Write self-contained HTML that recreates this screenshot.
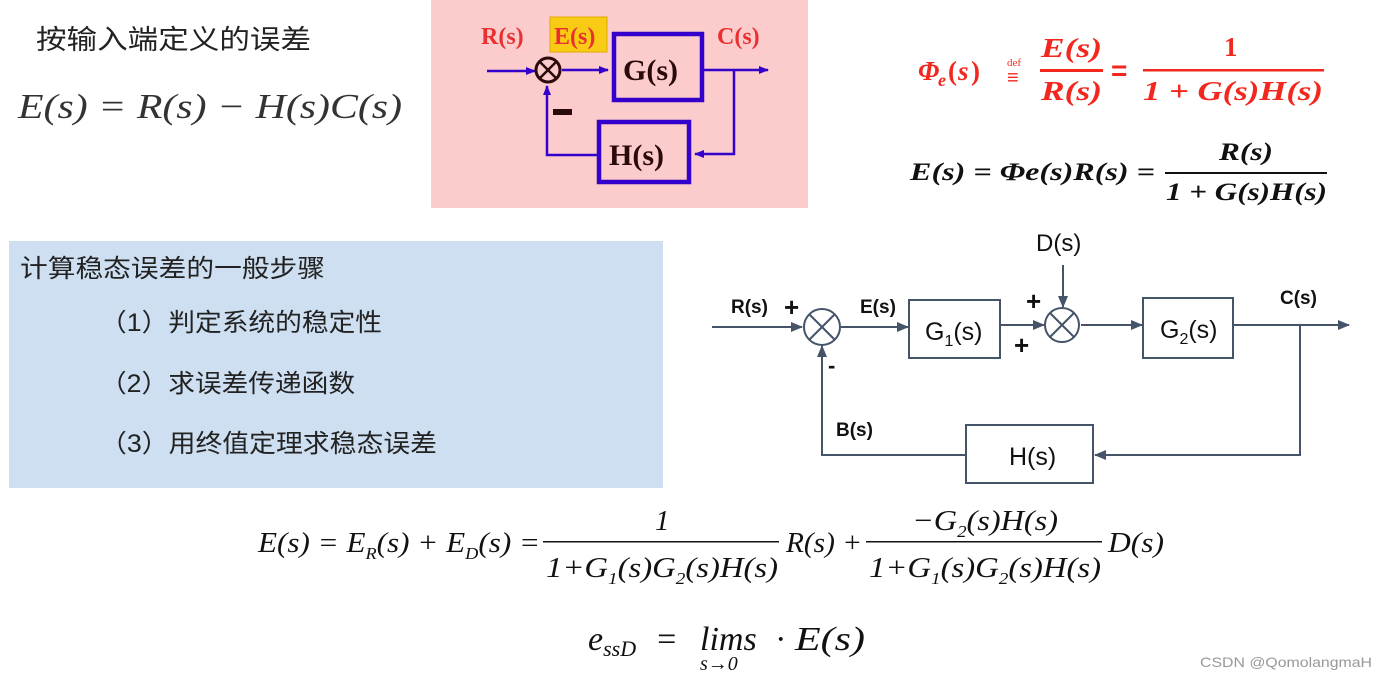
<!DOCTYPE html>
<html><head><meta charset="utf-8"><style>
html,body{margin:0;padding:0;background:#fff;}
svg{display:block;}
.cj{font-family:"Liberation Sans","Noto Sans CJK SC",sans-serif;}
.m{font-family:"Liberation Serif",serif;font-style:italic;}
.tm{font-family:"Liberation Serif",serif;}
.a{font-family:"Liberation Sans",sans-serif;}
</style></head><body>
<svg width="1386" height="680" viewBox="0 0 1386 680" xmlns="http://www.w3.org/2000/svg">
<defs>
<marker id="ab" markerWidth="10" markerHeight="10" refX="9" refY="5" orient="auto" markerUnits="userSpaceOnUse"><path d="M0,1 L10,5 L0,9 Z" fill="#3300cc"/></marker>
<marker id="ag" markerWidth="12" markerHeight="12" refX="11" refY="6" orient="auto" markerUnits="userSpaceOnUse"><path d="M0,1 L12,6 L0,11 Z" fill="#46546a"/></marker>
</defs>

<text class="cj" x="36" y="49" font-size="27" fill="#222" textLength="275" lengthAdjust="spacingAndGlyphs">按输入端定义的误差</text>
<text class="m" x="18" y="118" font-size="35" fill="#333" textLength="384" lengthAdjust="spacingAndGlyphs">E(s) = R(s) − H(s)C(s)</text>

<rect x="431" y="0" width="377" height="208" fill="#fccccc"/>
<rect x="550" y="17" width="57" height="35" fill="#f9cb14" stroke="#e0a800" stroke-width="1"/>
<g font-family="Liberation Serif,serif" font-weight="bold">
<text x="481" y="44" font-size="24" fill="#e83030">R(s)</text>
<text x="554" y="44" font-size="24" fill="#e83030">E(s)</text>
<text x="717" y="44" font-size="24" fill="#e83030">C(s)</text>
<text x="623" y="80" font-size="30" fill="#2a0a0a">G(s)</text>
<text x="609" y="165" font-size="30" fill="#2a0a0a">H(s)</text>
</g>
<g stroke="#3300cc" stroke-width="2.5" fill="none">
<line x1="487" y1="71" x2="535" y2="71" marker-end="url(#ab)"/>
<line x1="562" y1="70" x2="608" y2="70" marker-end="url(#ab)"/>
<line x1="704" y1="70" x2="768" y2="70" marker-end="url(#ab)"/>
<polyline points="734,70 734,154 695,154" marker-end="url(#ab)"/>
<polyline points="598,155 547,155 547,86" marker-end="url(#ab)"/>
</g>
<rect x="614" y="34" width="88" height="66" fill="none" stroke="#3300cc" stroke-width="4.5"/>
<rect x="599" y="122" width="90" height="60" fill="none" stroke="#3300cc" stroke-width="4.5"/>
<circle cx="548" cy="70" r="12" fill="none" stroke="#2a0a0a" stroke-width="3"/>
<line x1="540" y1="62" x2="556" y2="78" stroke="#2a0a0a" stroke-width="2.5"/>
<line x1="556" y1="62" x2="540" y2="78" stroke="#2a0a0a" stroke-width="2.5"/>
<rect x="553" y="109" width="19" height="6" fill="#2a0a0a"/>

<g font-family="Liberation Serif,serif" font-style="italic" font-weight="bold">
<text x="918" y="80" font-size="27" fill="#f2281f">Φ</text>
<text x="938" y="86" font-size="18" fill="#f2281f">e</text>
<text x="948" y="80" font-size="27" fill="#f2281f" font-style="normal">(</text>
<text x="958" y="80" font-size="27" fill="#f2281f">s</text>
<text x="971" y="80" font-size="27" fill="#f2281f" font-style="normal">)</text>
<text x="1041" y="57" font-size="27" fill="#f2281f" textLength="61" lengthAdjust="spacingAndGlyphs">E(s)</text>
<text x="1041" y="100" font-size="27" fill="#f2281f" textLength="61" lengthAdjust="spacingAndGlyphs">R(s)</text>
<text x="1224" y="56" font-size="27" fill="#f2281f" font-style="normal">1</text>
<text x="1143" y="100" font-size="27" fill="#f2281f" textLength="180" lengthAdjust="spacingAndGlyphs">1 + G(s)H(s)</text>
<text x="910" y="180" font-size="25" fill="#111" textLength="245" lengthAdjust="spacingAndGlyphs">E(s) = Φe(s)R(s) =</text>
<text x="1219" y="160" font-size="25" fill="#111" textLength="54" lengthAdjust="spacingAndGlyphs">R(s)</text>
<text x="1166" y="200" font-size="25" fill="#111" textLength="161" lengthAdjust="spacingAndGlyphs">1 + G(s)H(s)</text>
</g>
<text x="1007" y="66" font-family="Liberation Serif,serif" font-size="11" fill="#f2281f">def</text>
<text x="1007" y="84" font-family="Liberation Sans,sans-serif" font-size="20" fill="#f2281f">≡</text>
<rect x="1040" y="69" width="63" height="3" fill="#f2281f"/>
<text x="1111" y="80" font-family="Liberation Sans,sans-serif" font-size="28" font-weight="bold" fill="#f2281f">=</text>
<rect x="1143" y="69" width="181" height="2.5" fill="#f2281f"/>
<rect x="1165" y="172" width="162" height="2" fill="#111"/>

<rect x="9" y="241" width="654" height="247" fill="#cddff0"/>
<g class="cj" font-size="25" fill="#222">
<text x="20" y="277" textLength="305" lengthAdjust="spacingAndGlyphs">计算稳态误差的一般步骤</text>
<text x="100" y="331" textLength="282" lengthAdjust="spacingAndGlyphs">（1）判定系统的稳定性</text>
<text x="100" y="392" textLength="255" lengthAdjust="spacingAndGlyphs">（2）求误差传递函数</text>
<text x="100" y="452" textLength="337" lengthAdjust="spacingAndGlyphs">（3）用终值定理求稳态误差</text>
</g>

<g stroke="#46546a" stroke-width="2" fill="none">
<line x1="712" y1="327" x2="802" y2="327" marker-end="url(#ag)"/>
<line x1="841" y1="327" x2="908" y2="327" marker-end="url(#ag)"/>
<line x1="1001" y1="325" x2="1044" y2="325" marker-end="url(#ag)"/>
<line x1="1063" y1="265" x2="1063" y2="307" marker-end="url(#ag)"/>
<line x1="1081" y1="325" x2="1142" y2="325" marker-end="url(#ag)"/>
<line x1="1234" y1="325" x2="1349" y2="325" marker-end="url(#ag)"/>
<polyline points="1300,325 1300,455 1095,455" marker-end="url(#ag)"/>
<polyline points="966,455 822,455 822,346" marker-end="url(#ag)"/>
<rect x="909" y="300" width="91" height="58"/>
<rect x="1143" y="298" width="90" height="60"/>
<rect x="966" y="425" width="127" height="58"/>
<circle cx="822" cy="327" r="18"/>
<line x1="809" y1="314" x2="835" y2="340"/><line x1="835" y1="314" x2="809" y2="340"/>
<circle cx="1062" cy="325" r="17"/>
<line x1="1050" y1="313" x2="1074" y2="337"/><line x1="1074" y1="313" x2="1050" y2="337"/>
</g>
<g class="a" fill="#111">
<text x="731" y="313" font-size="19" font-weight="bold">R(s)</text>
<text x="784" y="316" font-size="26" font-weight="bold">+</text>
<text x="860" y="313" font-size="19" font-weight="bold">E(s)</text>
<text x="1026" y="310" font-size="26" font-weight="bold">+</text>
<text x="1014" y="354" font-size="26" font-weight="bold">+</text>
<text x="828" y="373" font-size="22" font-weight="bold">-</text>
<text x="1280" y="304" font-size="19" font-weight="bold">C(s)</text>
<text x="836" y="436" font-size="19" font-weight="bold">B(s)</text>
<text x="1036" y="251" font-size="24">D(s)</text>
<text x="925" y="340" font-size="25">G<tspan font-size="16" dy="6">1</tspan><tspan dy="-6">(s)</tspan></text>
<text x="1160" y="338" font-size="25">G<tspan font-size="16" dy="6">2</tspan><tspan dy="-6">(s)</tspan></text>
<text x="1009" y="465" font-size="25">H(s)</text>
</g>

<g class="m" fill="#111" font-size="29">
<text x="258" y="552" textLength="282" lengthAdjust="spacingAndGlyphs">E(s) = E<tspan font-size="17" dy="7">R</tspan><tspan dy="-7">(s) + E</tspan><tspan font-size="17" dy="7">D</tspan><tspan dy="-7">(s) =</tspan></text>
<text x="655" y="530" class="tm">1</text>
<text x="546" y="577" textLength="232" lengthAdjust="spacingAndGlyphs">1+G<tspan font-size="17" dy="7">1</tspan><tspan dy="-7">(s)G</tspan><tspan font-size="17" dy="7">2</tspan><tspan dy="-7">(s)H(s)</tspan></text>
<text x="786" y="552" textLength="76" lengthAdjust="spacingAndGlyphs">R(s) +</text>
<text x="912" y="530" textLength="146" lengthAdjust="spacingAndGlyphs">−G<tspan font-size="17" dy="7">2</tspan><tspan dy="-7">(s)H(s)</tspan></text>
<text x="869" y="577" textLength="232" lengthAdjust="spacingAndGlyphs">1+G<tspan font-size="17" dy="7">1</tspan><tspan dy="-7">(s)G</tspan><tspan font-size="17" dy="7">2</tspan><tspan dy="-7">(s)H(s)</tspan></text>
<text x="1108" y="552" textLength="56" lengthAdjust="spacingAndGlyphs">D(s)</text>
</g>
<rect x="543" y="541" width="236" height="1.5" fill="#111"/>
<rect x="866" y="541" width="236" height="1.5" fill="#111"/>
<g class="m" fill="#111">
<text x="588" y="650" font-size="34">e<tspan font-size="22" dy="6">ssD</tspan></text>
<text x="655" y="650" font-size="34" class="tm">=</text>
<text x="700" y="650" font-size="34" class="tm">lim<tspan class="m">s</tspan></text>
<text x="776" y="650" font-size="34" class="tm">·</text>
<text x="795" y="650" font-size="34" textLength="70" lengthAdjust="spacingAndGlyphs">E(s)</text>
<text x="700" y="670" font-size="20">s<tspan class="tm">→0</tspan></text>
</g>
<text x="1200" y="667" class="a" font-size="14" fill="#999" textLength="172" lengthAdjust="spacingAndGlyphs">CSDN @QomolangmaH</text>
</svg>
</body></html>
